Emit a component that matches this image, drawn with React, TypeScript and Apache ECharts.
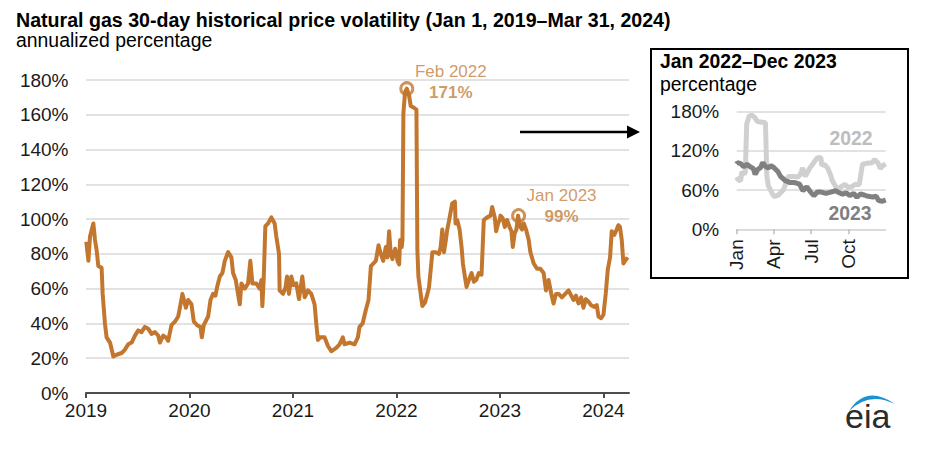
import React, { useEffect, useRef } from "react";
import * as echarts from "echarts";

// Dates as decimal years, 30-day historical volatility (annualized %)
const dates = [
  2019.003, 2019.023, 2019.039, 2019.06, 2019.071, 2019.087, 2019.103, 2019.119, 2019.151, 2019.161,
  2019.183, 2019.199, 2019.232, 2019.264, 2019.296, 2019.344, 2019.376, 2019.408, 2019.441, 2019.473,
  2019.505, 2019.537, 2019.569, 2019.601, 2019.633, 2019.666, 2019.698, 2019.714, 2019.746, 2019.772,
  2019.794, 2019.826, 2019.859, 2019.891, 2019.907, 2019.932, 2019.965, 2019.987, 2020.019, 2020.042,
  2020.074, 2020.106, 2020.119, 2020.138, 2020.18, 2020.203, 2020.228, 2020.251, 2020.267, 2020.293,
  2020.318, 2020.341, 2020.373, 2020.405, 2020.421, 2020.447, 2020.469, 2020.486, 2020.502, 2020.534,
  2020.566, 2020.588, 2020.608, 2020.646, 2020.678, 2020.695, 2020.704, 2020.717, 2020.733, 2020.759,
  2020.791, 2020.823, 2020.839, 2020.865, 2020.871, 2020.904, 2020.929, 2020.942, 2020.961, 2020.984,
  2021.006, 2021.032, 2021.058, 2021.09, 2021.113, 2021.145, 2021.177, 2021.209, 2021.225, 2021.241,
  2021.264, 2021.305, 2021.338, 2021.37, 2021.418, 2021.45, 2021.482, 2021.498, 2021.547, 2021.595,
  2021.627, 2021.643, 2021.673, 2021.705, 2021.73, 2021.753, 2021.769, 2021.801, 2021.827, 2021.849,
  2021.872, 2021.897, 2021.913, 2021.929, 2021.945, 2021.961, 2021.987, 2022.0, 2022.01, 2022.026,
  2022.035, 2022.051, 2022.058, 2022.067, 2022.083, 2022.1, 2022.122, 2022.138, 2022.17, 2022.193,
  2022.202, 2022.212, 2022.234, 2022.25, 2022.276, 2022.299, 2022.315, 2022.347, 2022.379, 2022.411,
  2022.427, 2022.443, 2022.459, 2022.475, 2022.491, 2022.514, 2022.539, 2022.565, 2022.571, 2022.587,
  2022.61, 2022.629, 2022.642, 2022.661, 2022.677, 2022.7, 2022.726, 2022.748, 2022.77, 2022.796,
  2022.822, 2022.844, 2022.876, 2022.909, 2022.925, 2022.95, 2022.963, 2022.982, 2023.0, 2023.005,
  2023.027, 2023.047, 2023.069, 2023.092, 2023.111, 2023.124, 2023.143, 2023.159, 2023.175, 2023.197,
  2023.213, 2023.23, 2023.252, 2023.278, 2023.294, 2023.326, 2023.358, 2023.39, 2023.422, 2023.445,
  2023.47, 2023.496, 2023.518, 2023.541, 2023.567, 2023.599, 2023.631, 2023.663, 2023.689, 2023.711,
  2023.734, 2023.759, 2023.785, 2023.807, 2023.83, 2023.856, 2023.881, 2023.913, 2023.936, 2023.952,
  2023.978, 2024.0, 2024.022, 2024.042, 2024.064, 2024.08, 2024.106, 2024.128, 2024.144, 2024.16,
  2024.177, 2024.193, 2024.209, 2024.234,
];

const volatility = [
  87, 76, 90, 95, 97.5, 88, 82, 73, 72, 57,
  40, 32, 29, 21, 22, 23, 25, 28, 29, 33,
  36, 35, 38, 37, 34, 35, 33, 29, 33, 32,
  30, 39, 41, 44, 49, 57, 49, 53.5, 51, 41,
  39, 38, 32, 39, 44, 53.5, 57, 56, 61, 67,
  69, 76, 81, 78, 69, 65, 57, 51, 63, 60,
  63, 76, 63, 63, 60, 65, 50, 65, 96, 97.5,
  101, 97.5, 90, 80, 59, 57, 61, 67, 57, 67,
  62, 63, 54, 67, 55, 59, 57, 51, 40, 30.5,
  32, 32, 27, 24, 26, 28, 32, 28, 29, 28,
  32, 38, 40, 48, 53.5, 73, 74, 76, 85, 80,
  76, 84, 78, 93, 80, 77, 83, 80, 76, 74,
  88, 84, 88, 161, 173, 175, 171, 165, 164, 163,
  82, 67, 57, 50, 52, 57, 61, 81, 81, 80,
  84, 94, 81, 87, 94, 101, 109, 110, 97.5, 99.5,
  94, 84, 74.5, 67, 61, 65, 69, 64, 65, 69,
  68, 99.5, 101, 102, 107, 101, 93, 97.5, 100, 102,
  100.5, 95.5, 99.5, 95.5, 93, 84, 92, 94, 102, 95.5,
  94, 97.5, 94, 88, 81, 74.5, 71.5, 71.5, 69, 59,
  65, 57, 51.5, 57, 57, 55, 57, 59, 56, 53.5,
  56, 51.5, 55, 49, 54, 52.5, 50.5, 49.5, 50.5, 44,
  43, 45, 57, 71, 78, 93, 91, 94, 96.5, 95.5,
  88, 74.5, 76, 78,
];

const yearTicks = [2019, 2020, 2021, 2022, 2023, 2024];
const insetMonthTicks = [0, 0.25, 0.5, 0.75];
const insetMonthLabels = ["Jan", "Apr", "Jul", "Oct"];
const insetYears = [2022, 2023];
const insetColors = ["#d0d0d0", "#808080"];
const insetLabelColors = ["#bdbdbd", "#808080"];

const annotDates = [2022.1, 2023.18];
const annotValues = [175, 102];
const annotMonths = ["Feb 2022", "Jan 2023"];
const annotPct = ["171%", "99%"];

const FONT = "'Liberation Sans', Arial, Helvetica, sans-serif";
const LINE = "#c3772e";
const ANNOT = "#c3803e";
const TEXT = "#1a1a1a";
const GRID = "#d9d9d9";

export default function App() {
  const ref = useRef<HTMLDivElement>(null);

  useEffect(() => {
    if (!ref.current) return;
    const chart = echarts.init(ref.current, null, { renderer: "svg" });

    echarts.graphic.registerShape(
      "eiaSwoosh",
      echarts.graphic.extendPath("M849,411 Q866,384 895,404 Q869,391 849,411 Z", {})
    );

    const mainData = dates.map((d, i) => [d, volatility[i]]);
    const insetSeries = insetYears.map((yr, k) => ({
      type: "line",
      xAxisIndex: 1,
      yAxisIndex: 1,
      showSymbol: false,
      symbol: "none",
      lineStyle: { color: insetColors[k], width: 5 },
      data: dates
        .map((d, i) => [d - yr, volatility[i]])
        .filter((p) => p[0] >= 0 && p[0] <= 1),
      z: 3 + k,
    }));

    const annotOffsets = [
      [44, -7],
      [43, -9.5],
    ];

    const option: any = {
      animation: false,
      textStyle: { fontFamily: FONT },
      grid: [
        { left: 86, top: 80, width: 543, height: 313 },
        { left: 736.7, top: 111.7, width: 149, height: 117.6 },
      ],
      xAxis: [
        {
          type: "value",
          gridIndex: 0,
          min: 2019,
          max: 2024.247,
          interval: 1,
          axisLine: { lineStyle: { color: "#4d4d4d", width: 2 } },
          axisTick: {
            show: true,
            length: 5,
            lineStyle: { color: "#4d4d4d", width: 2 },
            customValues: yearTicks,
          },
          axisLabel: {
            customValues: yearTicks,
            formatter: (v: number) => String(Math.round(v)),
            fontSize: 19,
            color: TEXT,
            fontFamily: FONT,
            margin: 8,
          },
          splitLine: { show: false },
        },
        {
          type: "value",
          gridIndex: 1,
          min: 0,
          max: 1,
          interval: 0.25,
          axisLine: { lineStyle: { color: GRID, width: 1.5 } },
          axisTick: {
            show: true,
            length: 5,
            lineStyle: { color: "#bdbdbd", width: 1.5 },
            customValues: insetMonthTicks,
          },
          axisLabel: {
            customValues: insetMonthTicks,
            formatter: (v: number) => {
              const idx = insetMonthTicks.findIndex((t) => Math.abs(t - v) < 1e-6);
              return idx >= 0 ? insetMonthLabels[idx] : "";
            },
            rotate: 90,
            fontSize: 19,
            color: TEXT,
            fontFamily: FONT,
            margin: 10,
          },
          splitLine: { show: false },
        },
      ],
      yAxis: [
        {
          type: "value",
          gridIndex: 0,
          min: 0,
          max: 180,
          interval: 20,
          axisLine: { show: false },
          axisTick: { show: false },
          axisLabel: {
            formatter: "{value}%",
            fontSize: 19,
            color: TEXT,
            fontFamily: FONT,
            margin: 17.5,
          },
          splitLine: { lineStyle: { color: GRID, width: 1.5 } },
        },
        {
          type: "value",
          gridIndex: 1,
          min: 0,
          max: 180,
          interval: 60,
          axisLine: { show: false },
          axisTick: { show: false },
          axisLabel: {
            formatter: "{value}%",
            fontSize: 19,
            color: TEXT,
            fontFamily: FONT,
            margin: 17.5,
          },
          splitLine: { lineStyle: { color: GRID, width: 1.5 } },
        },
      ],
      series: [
        {
          type: "line",
          xAxisIndex: 0,
          yAxisIndex: 0,
          showSymbol: false,
          symbol: "none",
          lineStyle: { color: LINE, width: 4, join: "round" },
          data: mainData,
          z: 3,
        },
        {
          type: "scatter",
          xAxisIndex: 0,
          yAxisIndex: 0,
          symbol: "circle",
          symbolSize: 12,
          itemStyle: { color: "rgba(255,255,255,0)", borderColor: LINE, borderWidth: 3 },
          z: 5,
          data: annotDates.map((d, i) => ({
            value: [d, annotValues[i]],
            label: {
              show: true,
              position: "inside",
              offset: annotOffsets[i],
              align: "center",
              verticalAlign: "middle",
              formatter: `{m|${annotMonths[i]}}\n{p|${annotPct[i]}}`,
              rich: {
                m: { fontSize: 17, color: ANNOT, fontFamily: FONT, lineHeight: 21, align: "center" },
                p: {
                  fontSize: 17,
                  fontWeight: "bold",
                  color: ANNOT,
                  fontFamily: FONT,
                  lineHeight: 21,
                  align: "center",
                },
              },
            },
          })),
        },
        ...insetSeries,
      ],
      graphic: [
        {
          type: "rect",
          z: -10,
          shape: { x: 651, y: 49, width: 257, height: 229 },
          style: { fill: "#ffffff", stroke: "#000000", lineWidth: 2 },
        },
        {
          type: "text",
          x: 16,
          y: 20.3,
          style: {
            text: "Natural gas 30-day historical price volatility (Jan 1, 2019\u2013Mar 31, 2024)",
            fontSize: 19.6,
            fontWeight: "bold",
            fontFamily: FONT,
            fill: "#000000",
            align: "left",
            verticalAlign: "middle",
          },
        },
        {
          type: "text",
          x: 16,
          y: 40.3,
          style: {
            text: "annualized percentage",
            fontSize: 19.4,
            fontFamily: FONT,
            fill: "#000000",
            align: "left",
            verticalAlign: "middle",
          },
        },
        {
          type: "text",
          x: 660,
          y: 60.5,
          style: {
            text: "Jan 2022\u2013Dec 2023",
            fontSize: 19.4,
            fontWeight: "bold",
            fontFamily: FONT,
            fill: "#000000",
            align: "left",
            verticalAlign: "middle",
          },
        },
        {
          type: "text",
          x: 660,
          y: 83.5,
          style: {
            text: "percentage",
            fontSize: 19.4,
            fontFamily: FONT,
            fill: "#000000",
            align: "left",
            verticalAlign: "middle",
          },
        },
        {
          type: "text",
          x: 851,
          y: 138,
          style: {
            text: String(insetYears[0]),
            fontSize: 19.4,
            fontWeight: "bold",
            fontFamily: FONT,
            fill: insetLabelColors[0],
            align: "center",
            verticalAlign: "middle",
          },
        },
        {
          type: "text",
          x: 850,
          y: 213,
          style: {
            text: String(insetYears[1]),
            fontSize: 19.4,
            fontWeight: "bold",
            fontFamily: FONT,
            fill: insetLabelColors[1],
            align: "center",
            verticalAlign: "middle",
          },
        },
        {
          type: "line",
          shape: { x1: 520, y1: 132, x2: 630, y2: 132 },
          style: { stroke: "#000000", lineWidth: 2.5 },
        },
        {
          type: "polygon",
          shape: {
            points: [
              [627, 125.5],
              [640, 132],
              [627, 138.5],
            ],
          },
          style: { fill: "#000000" },
        },
        {
          type: "eiaSwoosh",
          x: 0,
          y: 0,
          style: { fill: "#1b93d3" },
        },
        {
          type: "text",
          x: 845,
          y: 416,
          style: {
            text: "eia",
            fontSize: 34,
            fontFamily: FONT,
            fill: "#2b2b2b",
            align: "left",
            verticalAlign: "middle",
          },
        },
      ],
    };

    chart.setOption(option);
    return () => chart.dispose();
  }, []);

  return (
    <div
      ref={ref}
      style={{ position: "absolute", left: 0, top: 0, width: 930, height: 452 }}
    />
  );
}
